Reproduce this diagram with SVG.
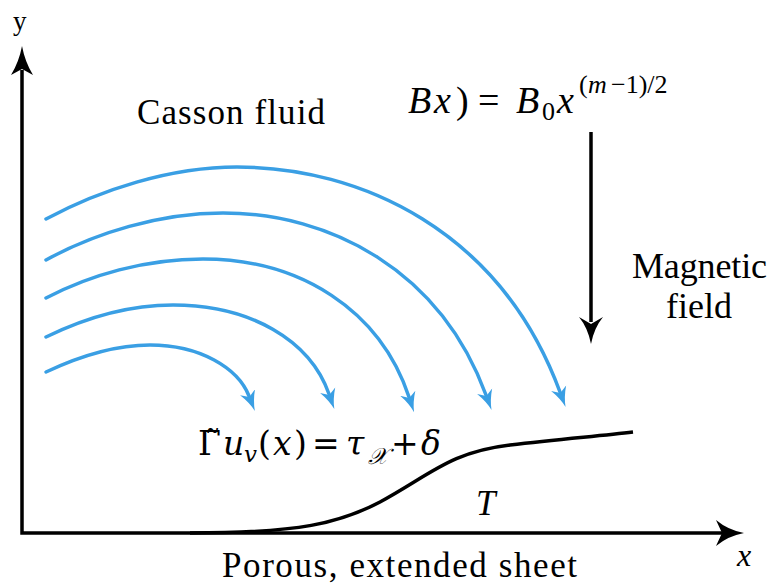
<svg xmlns="http://www.w3.org/2000/svg" width="775" height="586" viewBox="0 0 775 586">
<defs>
<style>
.t{fill:#000}
.i{font-style:italic}
.flow{fill:none;stroke:#3a9fe4;stroke-width:3.5;stroke-linecap:round}
.ax{fill:none;stroke:#000;stroke-width:3.5}
</style>
<marker id="bh" markerUnits="userSpaceOnUse" markerWidth="24" markerHeight="20" viewBox="0 -10 24 20" refX="4" refY="0" orient="auto">
<path d="M0,-8 Q10,-2 20,0 Q10,2 0,8 L5,0 Z" fill="#3a9fe4"/>
</marker>
</defs>
<rect width="775" height="586" fill="#fff"/>
<g id="axes">
<path class="ax" d="M22,70 L22,533 L722,533"/>
<path d="M22,46 Q25,62 33,75 L22,69 L11,75 Q19,62 22,46 Z" fill="#000"/>
<path d="M744,533 Q728,536 716,546 L722,533 L716,520 Q728,530 744,533 Z" fill="#000"/>
</g>
<g id="sheet">
<path d="M190,533 C300,533 340,523 380,502 C430,475 450,452 510,445 C560,439 600,436 633,432" fill="none" stroke="#000" stroke-width="3.5"/>
</g>
<g id="connectors">
<path class="flow" marker-end="url(#bh)" d="M46,219 C100,190 170,167 237,167 C360,167 500,230 560,392"/>
<path class="flow" marker-end="url(#bh)" d="M46,260 C95,233 160,213 223,213 C330,213 440,270 486,395"/>
<path class="flow" marker-end="url(#bh)" d="M46,298 C90,275 145,259 203,259 C300,259 380,310 409,397"/>
<path class="flow" marker-end="url(#bh)" d="M46,337 C85,318 130,305 173,305 C250,305 310,340 329,394"/>
<path class="flow" marker-end="url(#bh)" d="M46,372 C80,356 115,345 150,345 C200,345 238,368 249,396"/>
</g>
<g id="magnetic-arrow">
<line x1="591" y1="132" x2="591" y2="322" stroke="#000" stroke-width="3.5"/>
<path d="M591,344 Q588,328 579,317 L591,324 L603,317 Q594,328 591,344 Z" fill="#000"/>
</g>
<g id="labels" font-family="'Liberation Serif', 'DejaVu Serif', serif">
<text class="t" x="13" y="30" font-size="27">y</text>
<text class="t" x="137" y="124" font-size="35" textLength="188">Casson fluid</text>
<text class="t" x="632" y="278" font-size="36" textLength="135">Magnetic</text>
<text class="t" x="699" y="318" font-size="36" text-anchor="middle">field</text>
<text class="t" x="222" y="577" font-size="35" textLength="355">Porous, extended sheet</text>
<text class="t i" x="737" y="566" font-size="32">x</text>
<text class="t i" x="476" y="515" font-size="35">T</text>
</g>
<g id="eq-top" font-family="'Liberation Serif', 'DejaVu Serif', serif">
<text class="t" y="113" font-size="38"><tspan class="i" x="408">B</tspan><tspan class="i" x="434">x</tspan><tspan x="456">)</tspan><tspan x="478">=</tspan><tspan class="i" x="516">B</tspan><tspan x="542" y="120" font-size="26">0</tspan><tspan class="i" x="557" y="113">x</tspan><tspan x="579" y="93" font-size="26">(</tspan><tspan class="i" x="588" y="93" font-size="26">m</tspan><tspan x="611" y="93" font-size="26">−1)/2</tspan></text>
</g>
<g id="eq-bottom" font-family="'DejaVu Serif', serif">
<text class="t" y="455" font-size="33"><tspan x="198">Γ̃</tspan><tspan class="i" x="223" y="455">u</tspan><tspan class="i" x="244" y="462" font-size="23">v</tspan><tspan x="258" y="455">(</tspan><tspan class="i" x="273">x</tspan><tspan x="294">)</tspan><tspan x="312">=</tspan><tspan class="i" x="346">τ</tspan><tspan class="i" x="368" y="464" font-size="23">𝒳</tspan><tspan x="391" y="455">+</tspan><tspan class="i" x="421">δ</tspan></text>
</g>
</svg>
